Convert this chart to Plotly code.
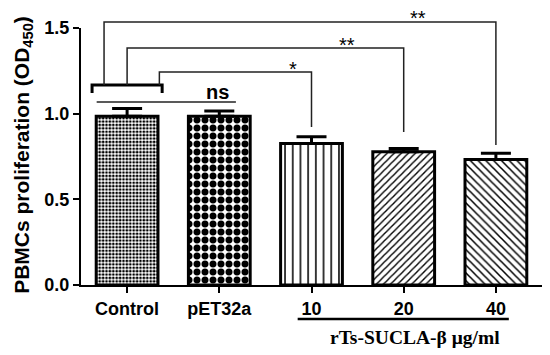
import plotly.graph_objects as go

categories = ["Control", "pET32a", "10", "20", "40"]
means = [0.985, 0.985, 0.826, 0.777, 0.732]
errors = [0.045, 0.030, 0.040, 0.020, 0.037]
patterns = [".", ".", "|", "/", "\\"]
pattern_sizes = [3.4, 8, 7.7, 5, 5.5]
pattern_solidity = [0.5, 0.6, 0.2, 0.28, 0.28]
y_ticks = [0.0, 0.5, 1.0, 1.5]
Y_MAX = 1.5

fig = go.Figure()
fig.add_trace(go.Bar(
    x=list(range(len(categories))), y=means, width=0.67,
    marker=dict(color="white",
                line=dict(color="black", width=3),
                pattern=dict(shape=patterns, size=pattern_sizes,
                             solidity=pattern_solidity,
                             fgcolor="black", bgcolor="white", fillmode="replace")),
    error_y=dict(type="data", symmetric=False, array=errors,
                 arrayminus=[0] * len(errors), color="black",
                 thickness=3, width=15),
    showlegend=False, hoverinfo="skip",
))

def py(v):
    return v / Y_MAX

thin = dict(color="#222", width=1.5)
shapes = []
# thick bracket over control
shapes.append(dict(type="path", xref="x", yref="paper",
                   path=f"M -0.38 {py(1.12)} L -0.38 {py(1.167)} L 0.38 {py(1.167)} L 0.38 {py(1.12)}",
                   line=dict(color="black", width=3)))
# ns line
shapes.append(dict(type="line", xref="x", yref="paper", x0=-0.33, x1=1.18,
                   y0=py(1.068), y1=py(1.068), line=thin))
# comparison brackets
brackets = [(-0.25, 4, 1.535, 0.817), (0.0, 3, 1.383, 0.893), (0.35, 2, 1.243, 0.922)]
for x0, x1, top, end in brackets:
    shapes.append(dict(type="path", xref="x", yref="paper",
                       path=f"M {x0} {py(1.167)} L {x0} {py(top)} L {x1} {py(top)} L {x1} {py(end)}",
                       line=thin))
# bottom underline for dose group
shapes.append(dict(type="line", xref="x", yref="paper", x0=1.85, x1=4.14,
                   y0=-0.132, y1=-0.132, line=dict(color="black", width=2.5)))

def ann(text, x, y, xref="x", size=20, family="Liberation Sans", **kw):
    return dict(text=text, x=x, y=y, xref=xref, yref="paper", showarrow=False,
                xanchor="center", yanchor="middle",
                font=dict(size=size, family=family, color="black"), **kw)

annotations = [
    ann("<b>ns</b>", 0.98, py(1.127)),
    ann("**", 3.15, py(1.559)),
    ann("**", 2.38, py(1.401)),
    ann("*", 1.8, py(1.261)),
    ann("<b>rTs-SUCLA-β μg/ml</b>", 3.12, -0.205, size=19.5, family="Liberation Serif"),
    ann("<b>PBMCs proliferation (OD<sub>450</sub>)</b>", -0.126, 0.506,
        xref="paper", textangle=-90, size=21),
]

fig.update_layout(
    width=550, height=355,
    margin=dict(l=81, r=8, t=28, b=70),
    paper_bgcolor="white", plot_bgcolor="white",
    shapes=shapes, annotations=annotations,
    font=dict(family="Liberation Sans", color="black"),
)
fig.update_xaxes(range=[-0.5, 4.5], tickmode="array",
                 tickvals=list(range(len(categories))),
                 ticktext=[f"<b>{c}</b>" for c in categories],
                 showline=True, linecolor="black", linewidth=2,
                 ticks="outside", ticklen=6, tickwidth=2, tickcolor="black",
                 tickfont=dict(size=18), showgrid=False, zeroline=False)
fig.update_yaxes(range=[0, Y_MAX], tickmode="array", tickvals=y_ticks,
                 ticktext=[f"<b>{v:.1f}</b>" for v in y_ticks],
                 showline=True, linecolor="black", linewidth=2,
                 ticks="outside", ticklen=6, tickwidth=2, tickcolor="black",
                 tickfont=dict(size=18), showgrid=False, zeroline=False)

fig.write_html("out.html", config={"displayModeBar": False},
               post_script="document.body.style.margin='0';document.body.style.overflow='hidden';")
